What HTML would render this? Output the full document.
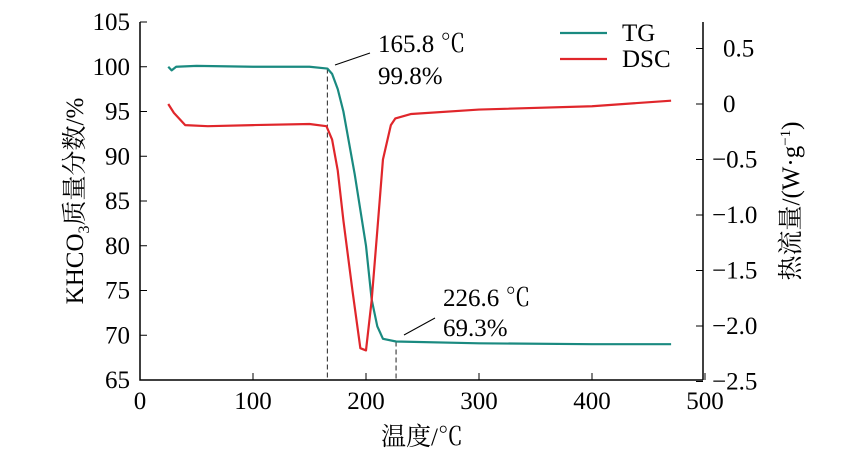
<!DOCTYPE html>
<html><head><meta charset="utf-8"><style>
body{margin:0;background:#fff}
svg{display:block;font-family:"Liberation Serif","Noto Serif CJK SC",serif}
</style></head><body>
<svg id="c" width="845" height="458"></svg>
<script>
const tgT=[25,28,32,50,100,150,165.8,170,175,180,190,200,205,210,215,226.6,300,400,470];
const tgV=[100,99.6,100,100.1,100,100,99.8,99.2,97.5,95,88,80,74,71,69.6,69.3,69.1,69.0,69.0];
const dscT=[25,30,40,60,100,150,165,170,175,180,188,195,200,205,210,215,222,226,240,300,400,470];
const dscV=[0,-0.08,-0.19,-0.2,-0.19,-0.18,-0.2,-0.32,-0.6,-1.05,-1.68,-2.2,-2.22,-1.77,-1.14,-0.5,-0.19,-0.13,-0.09,-0.05,-0.02,0.03];
const xTicks=[0,100,200,300,400,500];
const yTicks=[65,70,75,80,85,90,95,100,105];
const y2Ticks=[0.5,0,-0.5,-1.0,-1.5,-2.0,-2.5];
const y2Labels=["0.5","0","−0.5","−1.0","−1.5","−2.0","−2.5"];
const marks=[{t:165.8,v:99.8},{t:226.6,v:69.3}];
const X=t=>140+t*(705-140)/500;
const Y=v=>380-(v-65)*(380-22)/40;
const Y2=v=>104-v*111;
const svg=document.getElementById('c');const NS='http://www.w3.org/2000/svg';
function el(tag,attrs,txt){const e=document.createElementNS(NS,tag);for(const k in attrs)e.setAttribute(k,attrs[k]);if(txt!==undefined)e.textContent=txt;svg.appendChild(e);return e;}
let e;
e=el('path',{d:`M140,22 V380 H703`,fill:'none',stroke:'#000','stroke-width':1.5});

e=el('line',{x1:703,y1:22,x2:703,y2:380,stroke:'#000','stroke-width':1.5});

xTicks.forEach(t=>{el('line',{x1:X(t),x2:X(t),y1:380,y2:373,stroke:'#000'});
e=el('text',{x:X(t),y:409,'font-size':25,'text-anchor':'middle'},t);
});
yTicks.forEach(v=>{el('line',{x1:140,x2:147,y1:Y(v),y2:Y(v),stroke:'#000'});
e=el('text',{x:130,y:Y(v)+8,'font-size':25,'text-anchor':'end'},v);
});
y2Ticks.forEach((v,i)=>{el('line',{x1:696,x2:703,y1:Y2(v),y2:Y2(v),stroke:'#000'});
e=el('text',{x:v<0?712:723,y:Y2(v)+8,'font-size':25},y2Labels[i]);
});
marks.forEach(m=>{e=el('line',{x1:X(m.t),x2:X(m.t),y1:Y(m.v),y2:380,stroke:'#222','stroke-dasharray':'5,3'});
});
e=el('polyline',{points:tgT.map((t,i)=>X(t)+','+Y(tgV[i])).join(' '),fill:'none',stroke:'#1a8a80','stroke-width':2.2,'stroke-linejoin':'round'});

e=el('polyline',{points:dscT.map((t,i)=>X(t)+','+Y2(dscV[i])).join(' '),fill:'none',stroke:'#e0262b','stroke-width':2.2,'stroke-linejoin':'round'});

el('line',{x1:335,y1:65,x2:370,y2:53,stroke:'#000'});
el('line',{x1:404,y1:335,x2:435,y2:318,stroke:'#000'});
e=el('text',{x:378,y:52,'font-size':25},'165.8 ℃');
e=el('text',{x:378,y:84,'font-size':25},'99.8%');
e=el('text',{x:443,y:306,'font-size':25},'226.6 ℃');
e=el('text',{x:443,y:336,'font-size':25},'69.3%');
e=el('line',{x1:560,y1:33,x2:607,y2:33,stroke:'#1a8a80','stroke-width':2.2});
e=el('text',{x:622,y:41,'font-size':25},'TG');
e=el('line',{x1:560,y1:59,x2:607,y2:59,stroke:'#e0262b','stroke-width':2.2});
e=el('text',{x:622,y:67,'font-size':25},'DSC');
e=el('text',{x:422,y:445,'font-size':25,'text-anchor':'middle'},'温度/℃');
e=el('text',{x:0,y:0,'font-size':25,'text-anchor':'middle',transform:'translate(83,201) rotate(-90)'});
e.innerHTML='KHCO<tspan font-size="16" dy="6">3</tspan><tspan dy="-6">质量分数/%</tspan>';

e=el('text',{x:0,y:0,'font-size':25,'text-anchor':'middle',transform:'translate(799,201) rotate(-90)'});
e.innerHTML='热流量/(W·g<tspan font-size="15" dy="-9">−1</tspan><tspan dy="9">)</tspan>';

</script>
</body></html>
